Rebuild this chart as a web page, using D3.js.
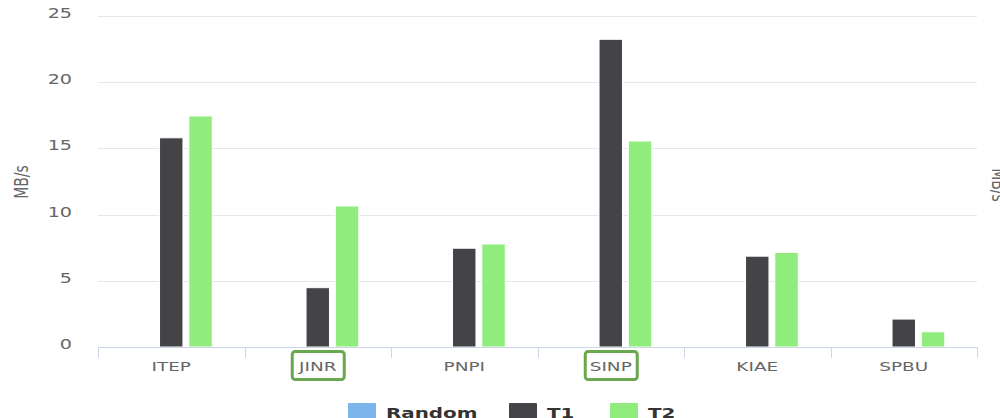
<!DOCTYPE html>
<html><head><meta charset="utf-8">
<script src="https://cdn.jsdelivr.net/npm/d3@7"></script>
<style>html,body{margin:0;padding:0;background:#fff;overflow:hidden}svg{display:block}</style>
</head><body>
<svg id="c" width="1000" height="418"></svg>
<script>
const categories = ["ITEP","JINR","PNPI","SINP","KIAE","SPBU"];
const seriesNames = ["Random","T1","T2"];
const randomVals = [0,0,0,0,0,0];
const t1Vals = [15.8,4.48,7.46,23.24,6.86,2.11];
const t2Vals = [17.45,10.65,7.78,15.56,7.15,1.15];
const yTicks = [0,5,10,15,20,25];
const highlighted = ["JINR","SINP"];
const colors = {Random:"#7cb5ec", T1:"#434348", T2:"#90ed7d"};

const SX = 1.42; // horizontal text stretch seen in reference
const svg = d3.select("#c");
const L=98, R=977, T=16, B=347;
const x = d3.scaleBand().domain(categories).range([L,R]).paddingInner(0).paddingOuter(0);
const y = d3.scaleLinear().domain([0,25]).range([B,T]);
const font = "DejaVu Sans, sans-serif";

function stext(g, tx, ty, str, opts){
  const t = g.append("text")
    .attr("transform", `translate(${tx},${ty}) scale(${SX},1)` + (opts.rotate?` rotate(${opts.rotate})`:""))
    .attr("font-family", font).attr("font-size", opts.size||13)
    .attr("fill", opts.fill||"#666").attr("text-anchor", opts.anchor||"start")
    .attr("font-weight", opts.weight||"normal").text(str);
  return t;
}

// grid
svg.append("g").selectAll("line").data(yTicks.filter(d=>d>0)).join("line")
  .attr("x1",L).attr("x2",R).attr("y1",d=>Math.round(y(d))+0.5).attr("y2",d=>Math.round(y(d))+0.5)
  .attr("stroke","#e6e6e6").attr("stroke-width",1);

// y tick labels
const yl = svg.append("g");
yTicks.forEach(d=> stext(yl, 72, y(d)+2, String(d), {size:13.5, anchor:"end"}));

// y title
stext(svg, 28, 182, "MB/s", {size:14, anchor:"middle", rotate:-90});
// opposite title (clipped at right edge)
stext(svg, 992, 185, "MB/s", {size:14, anchor:"middle", rotate:90});

// bars
const group = x.bandwidth()*0.6, gOff = x.bandwidth()*0.2;
const sub = d3.scaleBand().domain(seriesNames).range([gOff, gOff+group]);
const pad = sub.bandwidth()*0.1;
const data = [];
categories.forEach((c,i)=>{
  data.push({c, s:"Random", v:randomVals[i]});
  data.push({c, s:"T1", v:t1Vals[i]});
  data.push({c, s:"T2", v:t2Vals[i]});
});
svg.append("g").selectAll("rect").data(data.filter(d=>d.v>0)).join("rect")
  .attr("x", d=>x(d.c)+sub(d.s)+pad)
  .attr("width", sub.bandwidth()-2*pad)
  .attr("y", d=>y(d.v))
  .attr("height", d=>y(0)-y(d.v))
  .attr("fill", d=>colors[d.s])
  .attr("stroke","#fff").attr("stroke-width",1);

// x axis
const xa = svg.append("g");
xa.append("line").attr("x1",L).attr("x2",R).attr("y1",B+0.5).attr("y2",B+0.5).attr("stroke","#ccd6eb");
const bounds = categories.map(c=>x(c)).concat([R]);
xa.selectAll("line.tk").data(bounds).join("line").attr("class","tk")
  .attr("x1",d=>Math.round(d)+0.5).attr("x2",d=>Math.round(d)+0.5)
  .attr("y1",B).attr("y2",B+11).attr("stroke","#ccd6eb");
categories.forEach(c=> stext(xa, x(c)+x.bandwidth()/2, 371, c, {size:13, anchor:"middle"}));

// highlight boxes
highlighted.forEach(c=>{
  const cx = x(c)+x.bandwidth()/2;
  svg.append("rect").attr("x",cx-25.5).attr("y",351.5).attr("width",52).attr("height",28)
    .attr("rx",3).attr("fill","none").attr("stroke","#6aa84f").attr("stroke-width",3);
});

// legend
const leg = svg.append("g");
const legX = {Random:348, T1:509, T2:610};
seriesNames.forEach(s=>{
  leg.append("rect").attr("x",legX[s]).attr("y",403).attr("width",28).attr("height",16)
    .attr("rx",1).attr("fill",colors[s]);
  stext(leg, legX[s]+38, 418, s, {size:14, fill:"#333", weight:"bold"});
});
</script>
</body></html>
